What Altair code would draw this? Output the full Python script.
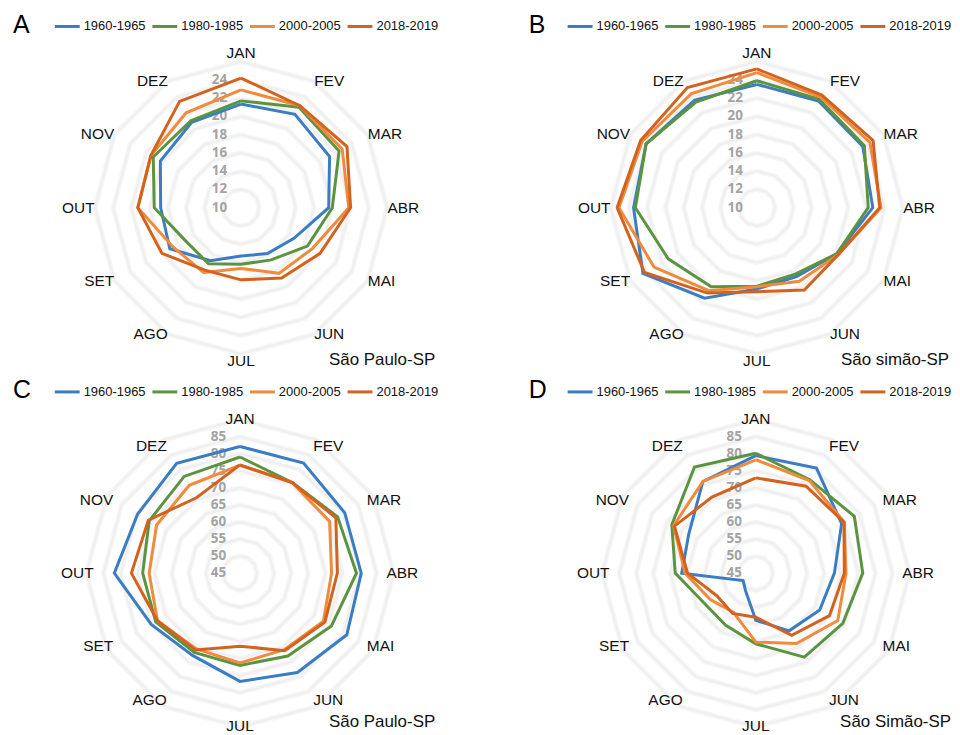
import altair as alt
import pandas as pd

MONTHS = ["JAN", "FEV", "MAR", "ABR", "MAI", "JUN", "JUL", "AGO", "SET", "OUT", "NOV", "DEZ"]
SERIES = ["1960-1965", "1980-1985", "2000-2005", "2018-2019"]
COLORS = ["#3b7dc4", "#5b9440", "#f08a3c", "#d4621f"]

# Panel A - temperature, São Paulo-SP
A_1960 = [21.35, 21.8, 21.2, 19.6, 16.7, 15.8, 15.3, 16.7, 19.0, 18.8, 20.2, 20.8]
A_1980 = [21.7, 22.7, 22.4, 20.0, 18.4, 16.6, 16.2, 17.1, 17.1, 19.5, 21.1, 21.0]
A_2000 = [22.9, 22.9, 22.8, 21.8, 19.0, 18.3, 16.65, 18.2, 18.6, 21.3, 21.4, 22.0]
A_2018 = [24.2, 22.9, 23.4, 22.0, 20.0, 18.9, 17.9, 17.9, 20.0, 21.3, 21.4, 23.45]

# Panel B - temperature, São Simão-SP
B_1960 = [23.5, 23.5, 23.4, 22.7, 20.1, 18.7, 18.9, 21.45, 24.4, 23.5, 24.0, 23.6]
B_1980 = [23.9, 23.7, 23.6, 22.2, 20.1, 18.4, 18.6, 20.0, 21.2, 23.3, 24.0, 23.35]
B_2000 = [24.8, 24.0, 24.3, 23.6, 20.3, 19.3, 18.65, 20.5, 23.0, 25.1, 24.5, 24.4]
B_2018 = [25.2, 24.25, 24.7, 23.45, 20.3, 20.4, 19.2, 20.8, 24.2, 25.3, 24.7, 25.2]

# Panel C - relative humidity, São Paulo-SP
C_1960 = [82.1, 82.2, 80.4, 80.5, 81.1, 78.6, 76.7, 72.8, 75.0, 81.8, 79.6, 82.1]
C_1980 = [79.0, 75.6, 78.0, 79.1, 75.9, 73.0, 72.0, 71.8, 73.5, 73.5, 75.7, 77.7]
C_2000 = [76.6, 75.6, 75.3, 71.8, 73.2, 70.9, 71.3, 70.6, 72.9, 71.6, 73.2, 74.7]
C_2018 = [76.7, 75.6, 77.4, 73.5, 73.7, 71.2, 66.4, 71.0, 72.9, 76.8, 76.0, 70.5]

# Panel D - relative humidity, São Simão-SP
D_1960 = [79.4, 80.5, 74.0, 68.0, 66.6, 64.5, 58.8, 51.0, 49.3, 66.7, 67.7, 76.0]
D_1980 = [80.1, 76.6, 78.3, 76.3, 74.4, 73.4, 65.7, 62.6, 62.5, 68.6, 73.4, 80.9]
D_2000 = [78.2, 76.3, 74.9, 71.4, 72.7, 68.8, 65.2, 58.2, 60.4, 65.7, 72.8, 76.0]
D_2018 = [72.9, 74.4, 74.8, 70.9, 69.9, 66.0, 57.9, 58.6, 58.2, 65.0, 72.5, 70.7]

TEMP_TICKS = [10, 12, 14, 16, 18, 20, 22, 24]
HUM_TICKS = [45, 50, 55, 60, 65, 70, 75, 80, 85]

W, H = 472, 366
LABEL_R = 147
FONT = "Liberation Sans"


def X(field):
    return alt.X(field, type="quantitative", axis=None,
                 scale=alt.Scale(domain=[0, W], nice=False, zero=False))


def Y(field):
    return alt.Y(field, type="quantitative", axis=None,
                 scale=alt.Scale(domain=[0, H], nice=False, zero=False, reverse=True))


def polar(chart, cx, cy, k, vmin, rexpr):
    return chart.transform_calculate(
        r=f"({rexpr} - {vmin}) * {k}",
    ).transform_calculate(
        px=f"{cx} + datum.r * sin(datum.idx * PI / 6)",
        py=f"{cy} - datum.r * cos(datum.idx * PI / 6)",
    )


def panel(series_vals, ticks, step, cx, cy, k, letter, location,
          letter_x, leg_x0, leg_y, loc_x, loc_y):
    vmin = ticks[0]
    rows = []
    for name, vals in zip(SERIES, series_vals):
        for i in range(13):
            rows.append({"series": name, "idx": i, "value": vals[i % 12]})
    df_lines = pd.DataFrame(rows)

    ring_vals = ticks[1:] + [ticks[-1] + step]
    rrows = []
    for v in ring_vals:
        for i in range(13):
            rrows.append({"ring": v, "idx": i, "value": v})
    df_rings = pd.DataFrame(rrows)

    rings_soft = polar(alt.Chart(df_rings), cx, cy, k, vmin, "datum.value").mark_line(
        color="#f6f6f6", strokeWidth=5, strokeJoin="round"
    ).encode(x=X("px"), y=Y("py"), detail="ring:N", order="idx:Q")
    rings = polar(alt.Chart(df_rings), cx, cy, k, vmin, "datum.value").mark_line(
        color="#efefef", strokeWidth=2, strokeJoin="round"
    ).encode(x=X("px"), y=Y("py"), detail="ring:N", order="idx:Q")

    lines = polar(alt.Chart(df_lines), cx, cy, k, vmin, "datum.value").mark_line(
        strokeWidth=3, strokeJoin="miter"
    ).encode(
        x=X("px"), y=Y("py"),
        color=alt.Color("series:N", scale=alt.Scale(domain=SERIES, range=COLORS), legend=None),
        order="idx:Q",
    )

    df_ticks = pd.DataFrame({"tick": ticks})
    tick_text = alt.Chart(df_ticks).transform_calculate(
        px=f"{cx} - 14",
        py=f"{cy} - (datum.tick - {vmin}) * {k}",
    ).mark_text(
        align="right", baseline="middle", font="Open Sans", fontWeight="bold",
        fontSize=13.5, color="#a3a3a3"
    ).encode(x=X("px"), y=Y("py"), text="tick:Q")

    df_months = pd.DataFrame({"month": MONTHS, "idx": list(range(12))})
    month_base = alt.Chart(df_months).transform_calculate(
        px=f"{cx} + {LABEL_R} * sin(datum.idx * PI / 6)",
        py=f"{cy} - {LABEL_R} * cos(datum.idx * PI / 6)",
    )
    month_layers = []
    for filt, align, baseline in [
        ("datum.idx == 0", "center", "bottom"),
        ("datum.idx == 6", "center", "top"),
        ("datum.idx > 0 && datum.idx < 6", "left", "middle"),
        ("datum.idx > 6", "right", "middle"),
    ]:
        month_layers.append(
            month_base.transform_filter(filt).mark_text(
                align=align, baseline=baseline, font=FONT, fontSize=15.5, color="#111111"
            ).encode(x=X("px"), y=Y("py"), text="month:N")
        )

    df_leg = pd.DataFrame({"series": SERIES, "i": list(range(4))})
    leg_base = alt.Chart(df_leg).transform_calculate(
        lx1=f"{leg_x0} + datum.i * 98",
        lx2=f"{leg_x0} + datum.i * 98 + 25",
        tx=f"{leg_x0} + datum.i * 98 + 29",
        ly=f"{leg_y}",
    )
    leg_lines = leg_base.mark_rule(strokeWidth=3).encode(
        x=X("lx1"), x2="lx2", y=Y("ly"),
        color=alt.Color("series:N", scale=alt.Scale(domain=SERIES, range=COLORS), legend=None),
    )
    leg_text = leg_base.mark_text(
        align="left", baseline="middle", font=FONT, fontSize=13, color="#111111"
    ).encode(x=X("tx"), y=Y("ly"), text="series:N")

    df_one = pd.DataFrame({"letter": [letter], "location": [location]})
    letter_mark = alt.Chart(df_one).mark_text(
        align="left", baseline="middle", font=FONT, fontSize=25, color="#000000"
    ).encode(x=alt.value(letter_x), y=alt.value(16), text="letter:N")
    loc_mark = alt.Chart(df_one).mark_text(
        align="right", baseline="alphabetic", font=FONT, fontSize=17, color="#111111"
    ).encode(x=alt.value(loc_x), y=alt.value(loc_y), text="location:N")

    return alt.layer(rings_soft, rings, tick_text, lines, *month_layers, leg_lines, leg_text,
                     letter_mark, loc_mark).properties(width=W, height=H)


kT = 9.17
kH = 3.43
pA = panel([A_1960, A_1980, A_2000, A_2018], TEMP_TICKS, 2, 234, 199, kT,
           "A", "São Paulo-SP", 5, 47, 17, 429, 357)
pB = panel([B_1960, B_1980, B_2000, B_2018], TEMP_TICKS, 2, 280, 199, kT,
           "B", "São simão-SP", 51, 90, 17, 473, 357)
pC = panel([C_1960, C_1980, C_2000, C_2018], HUM_TICKS, 5, 233, 200, kH,
           "C", "São Paulo-SP", 5, 47, 18, 429, 354)
pD = panel([D_1960, D_1980, D_2000, D_2018], HUM_TICKS, 5, 279, 200, kH,
           "D", "São Simão-SP", 51, 90, 18, 475, 354)

chart = alt.concat(pA, pB, pC, pD, columns=2, spacing=0, bounds="flush").properties(
    padding=0
).configure_view(stroke=None)

chart.save("out.html", embed_options={"renderer": "svg", "actions": False})
